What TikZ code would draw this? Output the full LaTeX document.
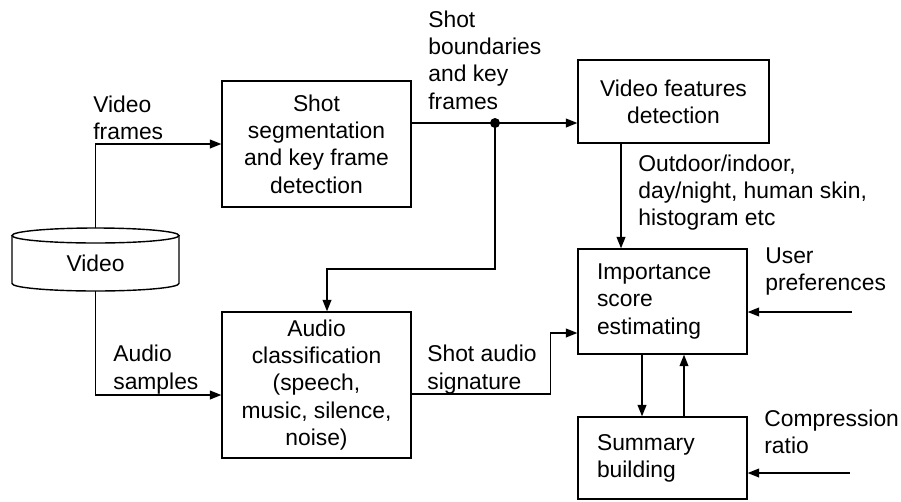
\documentclass[tikz,border=0pt]{standalone}
\usepackage{fontspec}
\setmainfont{Liberation Sans}
\usetikzlibrary{arrows.meta}
\tikzset{>={Triangle[length=6.5pt,width=5pt]}}
\tikzset{blk/.style={draw, line width=0.8pt, align=center, inner sep=0pt}}
\tikzset{lbl/.style={anchor=west, align=left, inner sep=0pt}}
\tikzset{lnk/.style={->, line width=0.8pt}}

\begin{document}
\begin{tikzpicture}[x=0.02cm, y=-0.02cm, font=\fontsize{13}{15.5}\selectfont]
    \useasboundingbox (0, 0) rectangle (901, 501);
    % video store
    \draw[line width=0.8pt](12, 235.5)--(12, 283.5)arc[start angle=180, end angle=360, x radius=1.67cm, y radius=0.15cm]--(179, 235.5);
    \draw[line width=0.8pt](95.5, 235.5)ellipse[x radius=1.67cm, y radius=0.15cm];
    \node (vid) at (95.5, 263) {Video};
    \coordinate (vtop) at (95.5, 228);
    \coordinate (vbot) at (95.5, 291);
    % blocks
    \node[blk, minimum width=3.78cm, minimum height=2.52cm] (shot) at (316.5, 144) {Shot\\segmentation\\and key frame\\detection};
    \node[blk, minimum width=3.82cm, minimum height=1.66cm] (feat) at (673.5, 101.5) {Video features\\detection};
    \node[blk, minimum width=3.78cm, minimum height=2.92cm] (audio) at (316.5, 385) {Audio\\classification\\(speech,\\music, silence,\\noise)};
    \node[blk, align=left, text width=2.62cm, minimum width=3.38cm, minimum height=2.1cm] (score) at (662.5, 301.5) {Importance\\score\\estimating};
    \node[blk, align=left, text width=2.62cm, minimum width=3.38cm, minimum height=1.64cm] (summ) at (662.5, 458) {Summary\\building};
    % labels
    \node[lbl] (vfr) at (93, 117.5) {Video\\frames};
    \node[lbl] (sbk) at (428, 60) {Shot\\boundaries\\and key\\frames};
    \node[lbl] (ftr) at (638, 192.5) {Outdoor/indoor,\\day/night, human skin,\\histogram etc};
    \node[lbl] (upr) at (765, 271.5) {User\\preferences};
    \node[lbl] (cmp) at (764, 432) {Compression\\ratio};
    \node[lbl] (asm) at (113, 369.5) {Audio\\samples};
    \node[lbl] (sas) at (427, 369.5) {Shot audio\\signature};
    % links
    \coordinate (jn) at (495, 123);
    \coordinate (upin) at (852, 312);
    \coordinate (cpin) at (850, 473);
    \draw[lnk](vtop)|-(shot.west);
    \draw[line width=0.8pt](shot.east |- jn)--(jn);
    \draw[lnk](jn)--(feat.west |- jn);
    \fill (jn) circle[radius=0.1cm];
    \draw[lnk](jn)--++(0, 146)-|([xshift=0.21cm]audio.north);
    \draw[lnk](vbot)|-([yshift=-0.2cm]audio.west);
    \draw[lnk]([yshift=-0.18cm]audio.east)--++(139, 0)|-([yshift=-0.63cm]score.west);
    \draw[lnk]([xshift=-1.05cm]feat.south)--([xshift=-1.05cm]feat.south |- score.north);
    \draw[lnk](upin)--(score.east |- upin);
    \draw[lnk](cpin)--(summ.east |- cpin);
    \draw[lnk]([xshift=-0.41cm]score.south)--([xshift=-0.41cm]summ.north);
    \draw[lnk]([xshift=0.43cm]summ.north)--([xshift=0.43cm]score.south);
\end{tikzpicture}
\end{document}
